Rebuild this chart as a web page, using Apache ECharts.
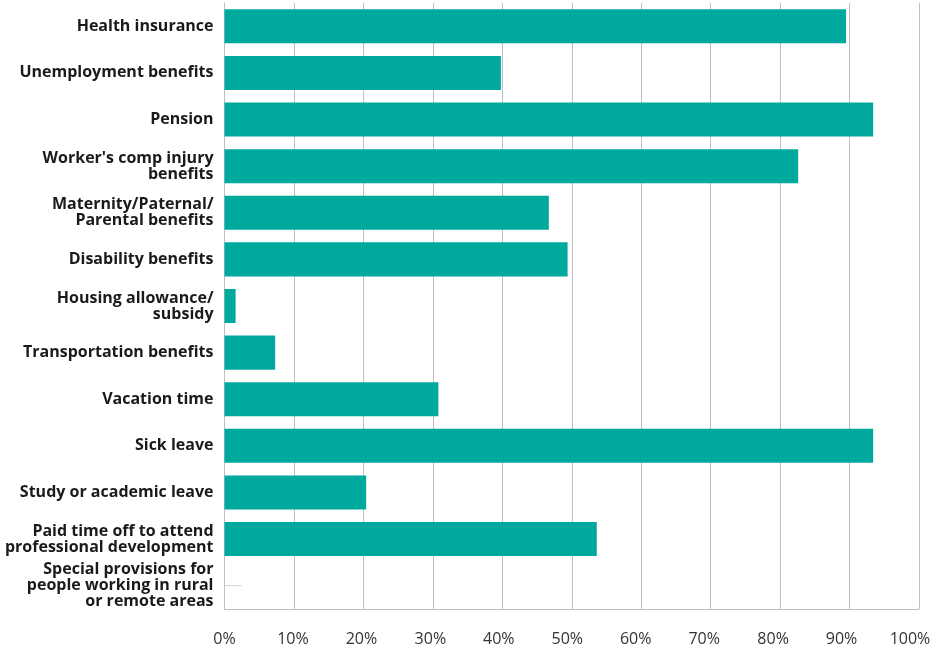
<!DOCTYPE html>
<html>
<head>
<meta charset="utf-8">
<script src="https://cdn.jsdelivr.net/npm/echarts@6/dist/echarts.min.js"></script>
<style>
html,body{margin:0;padding:0;background:#fff;}
#chart{width:938px;height:651px;}
</style>
</head>
<body>
<div id="chart"></div>
<script>
const categories = [
  "Health insurance",
  "Unemployment benefits",
  "Pension",
  "Worker's comp injury\nbenefits",
  "Maternity/Paternal/\nParental benefits",
  "Disability benefits",
  "Housing allowance/\nsubsidy",
  "Transportation benefits",
  "Vacation time",
  "Sick leave",
  "Study or academic leave",
  "Paid time off to attend\nprofessional development",
  "Special provisions for\npeople working in rural\nor remote areas"
];
const values = [89.5, 39.8, 93.4, 82.6, 46.7, 49.4, 1.6, 7.3, 30.8, 93.4, 20.4, 53.6, 0];
const zeroMarker = [null, null, null, null, null, null, null, null, null, null, null, null, 2.5];
const xTicks = [0, 10, 20, 30, 40, 50, 60, 70, 80, 90, 100];

const richStyles = {};
xTicks.forEach(function (t) {
  richStyles['t' + t] = {color: '#333', fontSize: 16, fontFamily: 'Open Sans', padding: [0, Math.round(t * 0.18), 0, 0]};
});

const chart = echarts.init(document.getElementById('chart'));
chart.setOption({
  animation: false,
  grid: {left: 224.5, right: 19, top: 3, bottom: 42, containLabel: false, outerBoundsMode: 'none'},
  xAxis: {
    type: 'value', min: xTicks[0], max: xTicks[xTicks.length - 1], interval: 10,
    axisLine: {show: true, lineStyle: {color: '#bfbfbf', width: 1}}, axisTick: {show: false},
    splitLine: {show: true, lineStyle: {color: '#bfbfbf', width: 1}},
    axisLabel: {
      formatter: function (v) { return '{t' + v + '|' + v + '%}'; },
      rich: richStyles,
      color: '#333', fontSize: 16, fontFamily: 'Open Sans', margin: 22
    }
  },
  yAxis: [{
    type: 'category', data: categories, inverse: true,
    axisLine: {show: true, lineStyle: {color: '#bfbfbf', width: 1}},
    axisTick: {show: false},
    axisLabel: {color: '#1a1a1a', fontSize: 16, fontWeight: 'bold', fontFamily: 'Open Sans', lineHeight: 16, margin: 11, align: 'right', padding: [0, 0, 4, 0]}
  }, {
    type: 'category', data: categories, inverse: true, show: false
  }],
  series: [
    {type: 'bar', data: values, yAxisIndex: 0, barCategoryGap: '27%', itemStyle: {color: '#00a99d'}},
    {type: 'bar', data: zeroMarker, yAxisIndex: 1, barWidth: 1, itemStyle: {color: '#d0d0d0'}}
  ]
});
</script>
</body>
</html>
